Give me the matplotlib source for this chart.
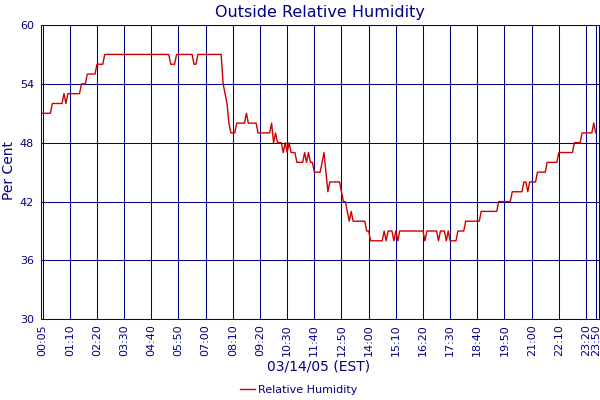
import matplotlib
matplotlib.use("Agg")
import matplotlib.pyplot as plt
import numpy as np

NAVY = "#000080"
RED = "#cc0000"

# outside relative humidity (%), one reading every 5 minutes
humidity = [
    51, 51, 51, 51, 51, 52, 52, 52, 52, 52, 52,          # 00:05-00:55
    53, 52, 53, 53, 53, 53, 53, 53, 53, 54, 54, 54,      # 01h
    55, 55, 55, 55, 55, 56, 56, 56, 56, 57, 57, 57,      # 02h
    57, 57, 57, 57, 57, 57, 57, 57, 57, 57, 57, 57,      # 03h
    57, 57, 57, 57, 57, 57, 57, 57, 57, 57, 57, 57,      # 04h
    57, 57, 57, 57, 57, 57, 57, 56, 56, 56, 57, 57,      # 05h
    57, 57, 57, 57, 57, 57, 57, 56, 56, 57, 57, 57,      # 06h
    57, 57, 57, 57, 57, 57, 57, 57, 57, 57, 54, 53,      # 07h
    52, 50, 49, 49, 49, 50, 50, 50, 50, 50, 51, 50,      # 08h
    50, 50, 50, 50, 49, 49, 49, 49, 49, 49, 49, 50,      # 09h
    48, 49, 48, 48, 48, 47, 48, 47, 48, 47, 47, 47,      # 10h
    46, 46, 46, 46, 47, 46, 47, 46, 46, 45, 45, 45,      # 11h
    45, 46, 47, 45, 43, 44, 44, 44, 44, 44, 44, 43,      # 12h
    42, 42, 41, 40, 41, 40, 40, 40, 40, 40, 40, 40,      # 13h
    39, 39, 38, 38, 38, 38, 38, 38, 38, 39, 38, 39,      # 14h
    39, 39, 38, 39, 38, 39, 39, 39, 39, 39, 39, 39,      # 15h
    39, 39, 39, 39, 39, 39, 38, 39, 39, 39, 39, 39,      # 16h
    39, 38, 39, 39, 39, 38, 39, 38, 38, 38, 38, 39,      # 17h
    39, 39, 39, 40, 40, 40, 40, 40, 40, 40, 40, 41,      # 18h
    41, 41, 41, 41, 41, 41, 41, 41, 42, 42, 42, 42,      # 19h
    42, 42, 42, 43, 43, 43, 43, 43, 43, 44, 44, 43,      # 20h
    44, 44, 44, 44, 45, 45, 45, 45, 45, 46, 46, 46,      # 21h
    46, 46, 46, 47, 47, 47, 47, 47, 47, 47, 47, 48,      # 22h
    48, 48, 48, 49, 49, 49, 49, 49, 49, 50, 49,          # 23:00-23:50
]

time_labels = ["00:05", "01:10", "02:20", "03:30", "04:40", "05:50", "07:00",
               "08:10", "09:20", "10:30", "11:40", "12:50", "14:00", "15:10",
               "16:20", "17:30", "18:40", "19:50", "21:00", "22:10", "23:20",
               "23:50"]
y_ticks = [30, 36, 42, 48, 54, 60]

x = np.arange(len(humidity))
# a label every 14 readings, plus the last reading
tick_pos = np.append(np.arange(0, 14 * (len(time_labels) - 1), 14), len(humidity) - 1)

fig = plt.figure(figsize=(6, 4), dpi=100)
W, H = 600.0, 400.0
left, right, top, bottom = 40.7, 599.0, 25.0, 319.3
ax = fig.add_axes([left / W, 1 - bottom / H, (right - left) / W, (bottom - top) / H])

ax.plot(x, humidity, color=RED, lw=1.0, label="Relative Humidity", zorder=3)

ax.set_xlim(-1.0, 286.7)
ax.set_ylim(30, 60)
ax.set_xticks(tick_pos)
ax.set_xticklabels(time_labels, rotation=90)
ax.set_yticks(y_ticks)
ax.tick_params(length=0, colors=NAVY, labelsize=8)
ax.tick_params(axis="y", pad=4.8)
ax.tick_params(axis="x", pad=3.4)
ax.grid(True, color=NAVY, lw=0.75)
for s in ax.spines.values():
    s.set_color(NAVY)
    s.set_linewidth(0.75)

ax.set_title("Outside Relative Humidity", color=NAVY, fontsize=11.5, pad=6)
fig.text(318.5 / W, 1 - 367 / H, "03/14/05 (EST)", color=NAVY, fontsize=10,
         ha="center", va="center")
fig.text(9 / W, 1 - 171 / H, "Per Cent", color=NAVY, fontsize=10,
         ha="center", va="center", rotation=90)

leg = fig.legend(loc="center", bbox_to_anchor=(299 / W, 1 - 390 / H), frameon=False,
                 fontsize=8, handlelength=1.3, handletextpad=0.3)
for t in leg.get_texts():
    t.set_color(NAVY)

fig.savefig("out.png", dpi=100)
